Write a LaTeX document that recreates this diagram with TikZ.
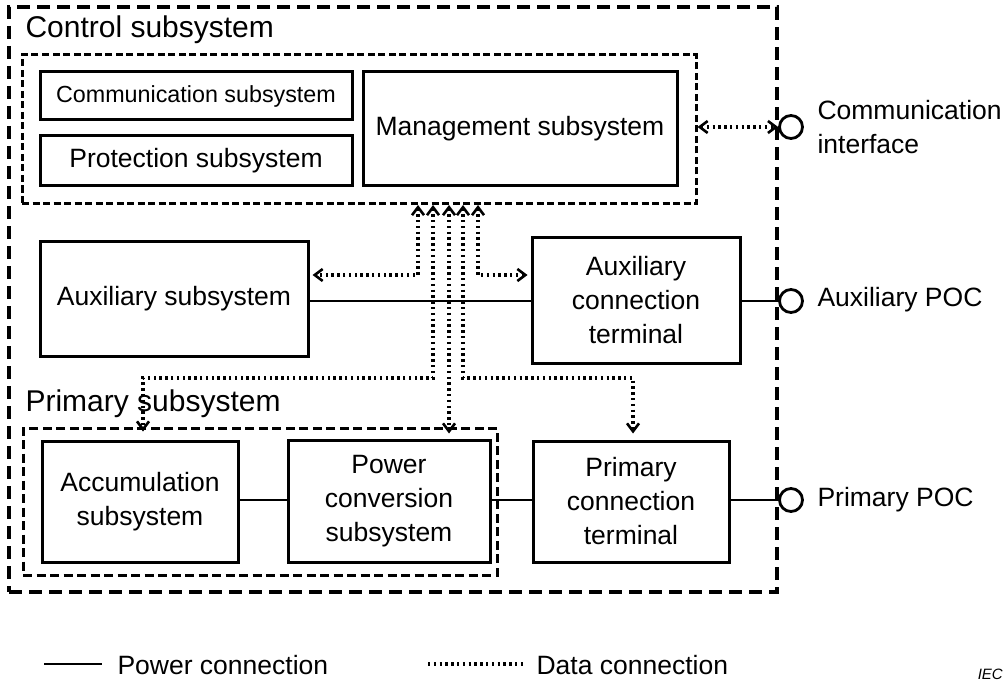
\documentclass[tikz,border=0pt]{standalone}
\usepackage{fontspec}
\setmainfont{Liberation Sans}
\usetikzlibrary{arrows.meta}

\begin{document}
\begin{tikzpicture}[x=1pt,y=-1pt,
  txt/.style={font=\fontsize{26.5}{34}\selectfont},
  bigtxt/.style={font=\fontsize{30}{36}\selectfont},
  smalltxt/.style={font=\fontsize{23.3}{28}\selectfont},
  block/.style={draw, line width=3pt, inner sep=0pt, align=center, txt},
  outerdash/.style={draw, line width=3.4pt, dash pattern=on 13pt off 7pt, inner sep=0pt},
  ctrldash/.style={draw, line width=3pt, dash pattern=on 7pt off 3.5pt, inner sep=0pt},
  primdash/.style={draw, line width=3pt, dash pattern=on 9pt off 4.5pt, inner sep=0pt},
  power/.style={line width=2.6pt},
  data/.style={line width=3.2pt, dash pattern=on 2.4pt off 3.4pt},
  >={Straight Barb[length=8pt,width=12pt,line width=2.6pt]},
  poc/.style={circle, draw, line width=2.8pt, minimum size=23pt, inner sep=0pt, fill=white},
  lab/.style={txt, anchor=west, align=left}]

\fill[white] (0,0) rectangle (1005,682);
\useasboundingbox (0,0) rectangle (1005,682);

% group frames
\node[outerdash, minimum width=768pt, minimum height=585pt] (outer) at (393,299.5) {};
\node[ctrldash, minimum width=674pt, minimum height=149pt] (ctrl) at (359,129.5) {};
\node[primdash, minimum width=474pt, minimum height=147pt] (prim) at (260,501.5) {};

\node[bigtxt, anchor=west] (ctrllab) at (22,30) {Control subsystem};
\node[bigtxt, anchor=west] (primlab) at (22,404) {Primary subsystem};

% control subsystem blocks
\node[block, smalltxt, minimum width=312pt, minimum height=48pt] (comm) at (196,96) {Communication subsystem};
\node[block, minimum width=312pt, minimum height=50pt] (prot) at (196,161) {Protection subsystem};
\node[block, minimum width=314pt, minimum height=114pt] (mgmt) at (520,129) {Management subsystem};

% auxiliary path
\node[block, minimum width=268pt, minimum height=114pt] (auxsub) at (174,299) {Auxiliary subsystem};
\node[block, minimum width=208pt, minimum height=125pt] (auxterm) at (636,300.5) {Auxiliary\\connection\\terminal};

% primary path
\node[block, minimum width=196pt, minimum height=121pt] (acc) at (140,501.5) {Accumulation\\subsystem};
\node[block, minimum width=202pt, minimum height=122pt] (pcs) at (389,501) {Power\\conversion\\subsystem};
\node[block, minimum width=196pt, minimum height=121pt] (pct) at (631,501.5) {Primary\\connection\\terminal};

% points of connection
\node[poc] (ci) at (791,127) {};
\node[poc] (apoc) at (791,301) {};
\node[poc] (ppoc) at (791,500) {};
\node[lab] (cilab) at (814,127.5) {Communication\\interface};
\node[lab] (apoclab) at (814,300) {Auxiliary POC};
\node[lab] (ppoclab) at (814,500) {Primary POC};

% power connections
\draw[power] (auxsub.east |- apoc) -- (auxterm.west |- apoc);
\draw[power] (auxterm.east |- apoc) -- (apoc.west);
\draw[power] (acc.east |- ppoc) -- (pcs.west |- ppoc);
\draw[power] (pcs.east |- ppoc) -- (pct.west |- ppoc);
\draw[power] (pct.east |- ppoc) -- (ppoc.west);

% data connections from the management subsystem
\coordinate (u1) at (418,205);
\coordinate (u2) at (433,205);
\coordinate (u3) at (449,205);
\coordinate (u4) at (463,205);
\coordinate (u5) at (478,205);
\coordinate (lo) at (0,378);

\draw[data,<->] (ctrl.east |- ci) -- (ci.west);
\draw[data,<->,shorten >=3pt] (u1) |- ([yshift=24pt]auxsub.east);
\draw[data,<->,shorten >=3pt] (u5) |- ([yshift=25.5pt]auxterm.west);
\draw[data,<->,shorten >=8pt] (u2) -- (u2 |- lo) -| ([xshift=3pt]acc.north);
\draw[data,<->,shorten >=5pt] (u3) -- (u3 |- pcs.north);
\draw[data,<->,shorten >=6pt] (u4) -- (u4 |- lo) -| ([xshift=2pt]pct.north);

% legend
\coordinate (lp1) at (44,664);
\coordinate (lp2) at (102,664);
\coordinate (ld1) at (428,664);
\coordinate (ld2) at (524,664);
\draw[power] (lp1) -- (lp2);
\node[lab] (lplab) at (114,665) {Power connection};
\draw[data] (ld1) -- (ld2);
\node[lab] (ldlab) at (533,665) {Data connection};

\node[font=\itshape\fontsize{15}{15}\selectfont, anchor=south east, inner sep=1pt] (iec) at (1004,681) {IEC};
\end{tikzpicture}
\end{document}
